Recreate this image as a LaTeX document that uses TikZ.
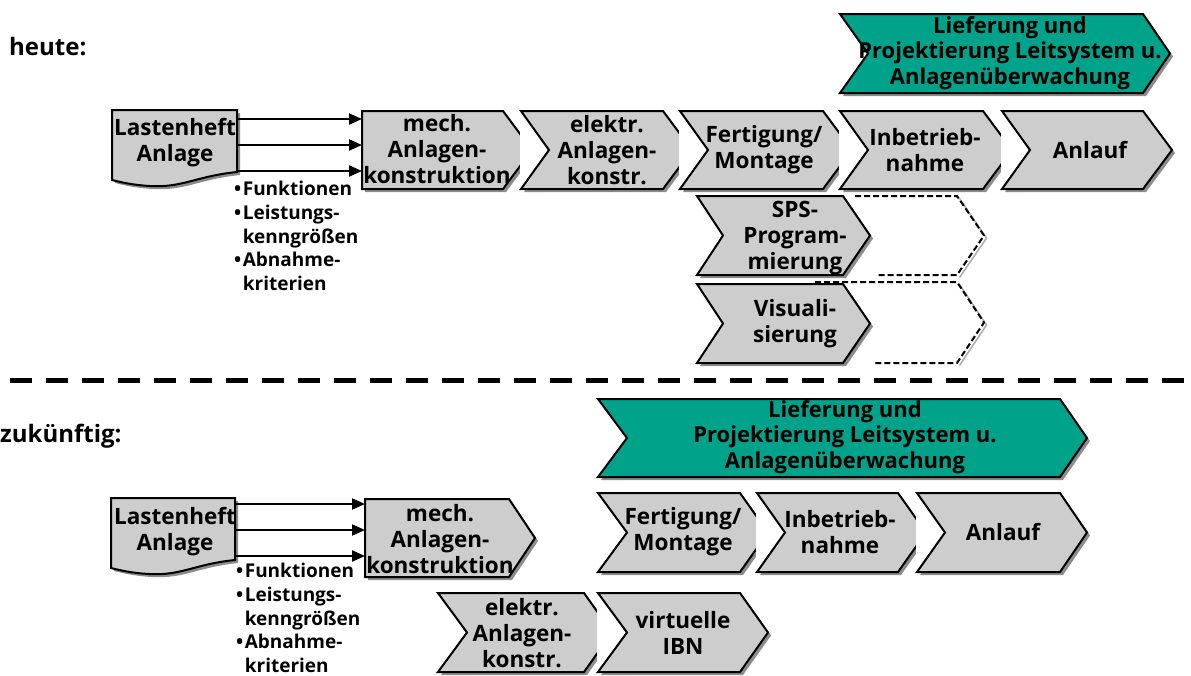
\documentclass[tikz,border=0pt]{standalone}
\usepackage{fontspec}
\setmainfont{Open Sans}
\usetikzlibrary{arrows.meta}
\definecolor{boxgray}{RGB}{205,205,205}
\definecolor{tealc}{RGB}{0,163,138}
\definecolor{shadowc}{RGB}{140,140,140}
\definecolor{dshadowc}{RGB}{175,175,175}
\newcommand\bl{•\kern1.5pt}
\newcommand\nbl{\phantom{•}\kern1.5pt}
\tikzset{
  box/.style={fill=boxgray,draw=black,line width=2pt,line join=miter},
  tealbox/.style={fill=tealc,draw=black,line width=2pt,line join=miter},
  lbl/.style={font=\bfseries\fontsize{22.5}{26}\selectfont,align=center,inner sep=0pt},
  tlbl/.style={font=\bfseries\fontsize{22}{25.5}\selectfont,align=center,inner sep=0pt},
  blt/.style={font=\bfseries\fontsize{19}{23.7}\selectfont,align=left,inner sep=0pt,anchor=west},
  ttl/.style={font=\bfseries\fontsize{24}{28}\selectfont,inner sep=0pt,anchor=west},
  arr/.style={line width=2pt,-{Triangle[length=13pt,width=11pt]}},
  dashbox/.style={draw=black,line width=2pt,dash pattern=on 6pt off 3pt},
  sep/.style={line width=5pt,dash pattern=on 22pt off 14pt},
}
% #1 style, #2 left, #3 top, #4 bottom, #5 notch x, #6 end x, #7 tip x
\newcommand\chv[7]{%
  \fill[white] (#2-1,#3-2) rectangle (#5,#4+6);
  \fill[shadowc,shift={(3,3)}] (#2,#3) -- (#6,#3) -- (#7,{(#3+#4)/2}) -- (#6,#4) -- (#2,#4) -- (#5,{(#3+#4)/2}) -- cycle;
  \filldraw[#1] (#2,#3) -- (#6,#3) -- (#7,{(#3+#4)/2}) -- (#6,#4) -- (#2,#4) -- (#5,{(#3+#4)/2}) -- cycle;
}
% #1 left, #2 right, #3 top
\newcommand\docshape[3]{%
  \fill[shadowc,shift={(3,3)}] (#1,#3) -- (#2,#3) -- (#2,#3+62) .. controls (#2-40,#3+66) and (#1+70,#3+78) .. (#1+38,#3+76) .. controls (#1+20,#3+75) and (#1+8,#3+72) .. (#1,#3+70) -- cycle;
  \filldraw[box] (#1,#3) -- (#2,#3) -- (#2,#3+62) .. controls (#2-40,#3+66) and (#1+70,#3+78) .. (#1+38,#3+76) .. controls (#1+20,#3+75) and (#1+8,#3+72) .. (#1,#3+70) -- cycle;
}
\newcommand\dshape[5]{% #1 top-left x, #2 bottom-left x, #3 top, #4 bottom, #5 end x
  \draw[line width=1.6pt,draw=dshadowc,shift={(2.5,2.5)}] (#5,#3) -- (#5+27,{(#3+#4)/2}) -- (#5,#4);
  \draw[dashbox] (#1,#3) -- (#5,#3) -- (#5+27,{(#3+#4)/2}) -- (#5,#4) -- (#2,#4);
}
\begin{document}
\begin{tikzpicture}[x=1pt,y=-1pt]
\useasboundingbox (0,0) rectangle (1191,675);

% ---------- heute ----------
\node[ttl] (heute) at (9,47) {heute:};

\chv{tealbox}{840}{14}{93}{868}{1143}{1170}
\node[tlbl] (t1) at (1010,53) {Lieferung und\\Projektierung Leitsystem u.\\Anlagenüberwachung};

\docshape{112}{237}{110}
\node[lbl] (lh1) at (175,143) {Lastenheft\\Anlage};

\chv{box}{362}{111}{189}{362}{503}{532}
\node[lbl] (m1) at (437,149) {mech.\\Anlagen-\\konstruktion};
\chv{box}{521}{111}{189}{549}{663}{692}
\node[lbl] (e1) at (607,150) {elektr.\\Anlagen-\\konstr.};
\chv{box}{680}{111}{189}{708}{823}{852}
\node[lbl] (f1) at (764,150) {Fertigung/\\Montage};
\chv{box}{840}{111}{189}{868}{983}{1012}
\node[lbl] (i1) at (925,150) {Inbetrieb-\\nahme};
\chv{box}{1002}{111}{189}{1030}{1143}{1172}
\node[lbl] (a1) at (1090,150) {Anlauf};

\coordinate (s1a) at (237,119); \coordinate (e1a) at (362,119);
\coordinate (s1b) at (237,145); \coordinate (e1b) at (362,145);
\coordinate (s1c) at (237,171); \coordinate (e1c) at (362,171);
\draw[arr] (s1a) -- (e1a);
\draw[arr] (s1b) -- (e1b);
\draw[arr] (s1c) -- (e1c);

\node[blt] (b1) at (234,236) {\bl Funktionen\\\bl Leistungs-\\\nbl kenngrößen\\\bl Abnahme-\\\nbl kriterien};

\dshape{855}{877}{196}{275}{957}
\chv{box}{697}{196}{275}{723}{843}{870}
\node[lbl] (sps) at (795,238) {SPS-\\Program-\\mierung};
\dshape{815}{875}{282}{363}{957}
\chv{box}{697}{284}{363}{723}{843}{870}
\node[lbl] (vis) at (795,324) {Visuali-\\sierung};

% ---------- separator ----------
\coordinate (sepL) at (10,380);
\coordinate (sepR) at (1191,380);
\draw[sep] (sepL) -- (sepR);

% ---------- zukünftig ----------
\node[ttl] (zuk) at (0,436) {zukünftig:};

\chv{tealbox}{598}{399}{477}{627}{1060}{1087}
\node[tlbl] (t2) at (845,437) {Lieferung und\\Projektierung Leitsystem u.\\Anlagenüberwachung};

\chv{box}{598}{493}{572}{627}{740}{768}
\node[lbl] (f2) at (683,532) {Fertigung/\\Montage};
\chv{box}{757}{493}{572}{785}{898}{926}
\node[lbl] (i2) at (840,532) {Inbetrieb-\\nahme};
\chv{box}{917}{493}{572}{945}{1060}{1087}
\node[lbl] (a2) at (1003,532) {Anlauf};

\docshape{111}{235}{498}
\node[lbl] (lh2) at (175,532) {Lastenheft\\Anlage};

\chv{box}{365}{499}{577}{365}{509}{535}
\node[lbl] (m2) at (440,539) {mech.\\Anlagen-\\konstruktion};
\chv{box}{438}{593}{672}{467}{584}{612}
\node[lbl] (e2) at (522,633) {elektr.\\Anlagen-\\konstr.};
\chv{box}{598}{593}{672}{627}{740}{768}
\node[lbl] (v2) at (683,633) {virtuelle\\IBN};

\coordinate (s2a) at (235,504); \coordinate (e2a) at (365,504);
\coordinate (s2b) at (235,530); \coordinate (e2b) at (365,530);
\coordinate (s2c) at (235,556); \coordinate (e2c) at (365,556);
\draw[arr] (s2a) -- (e2a);
\draw[arr] (s2b) -- (e2b);
\draw[arr] (s2c) -- (e2c);

\node[blt] (b2) at (236,618) {\bl Funktionen\\\bl Leistungs-\\\nbl kenngrößen\\\bl Abnahme-\\\nbl kriterien};
\end{tikzpicture}
\end{document}
